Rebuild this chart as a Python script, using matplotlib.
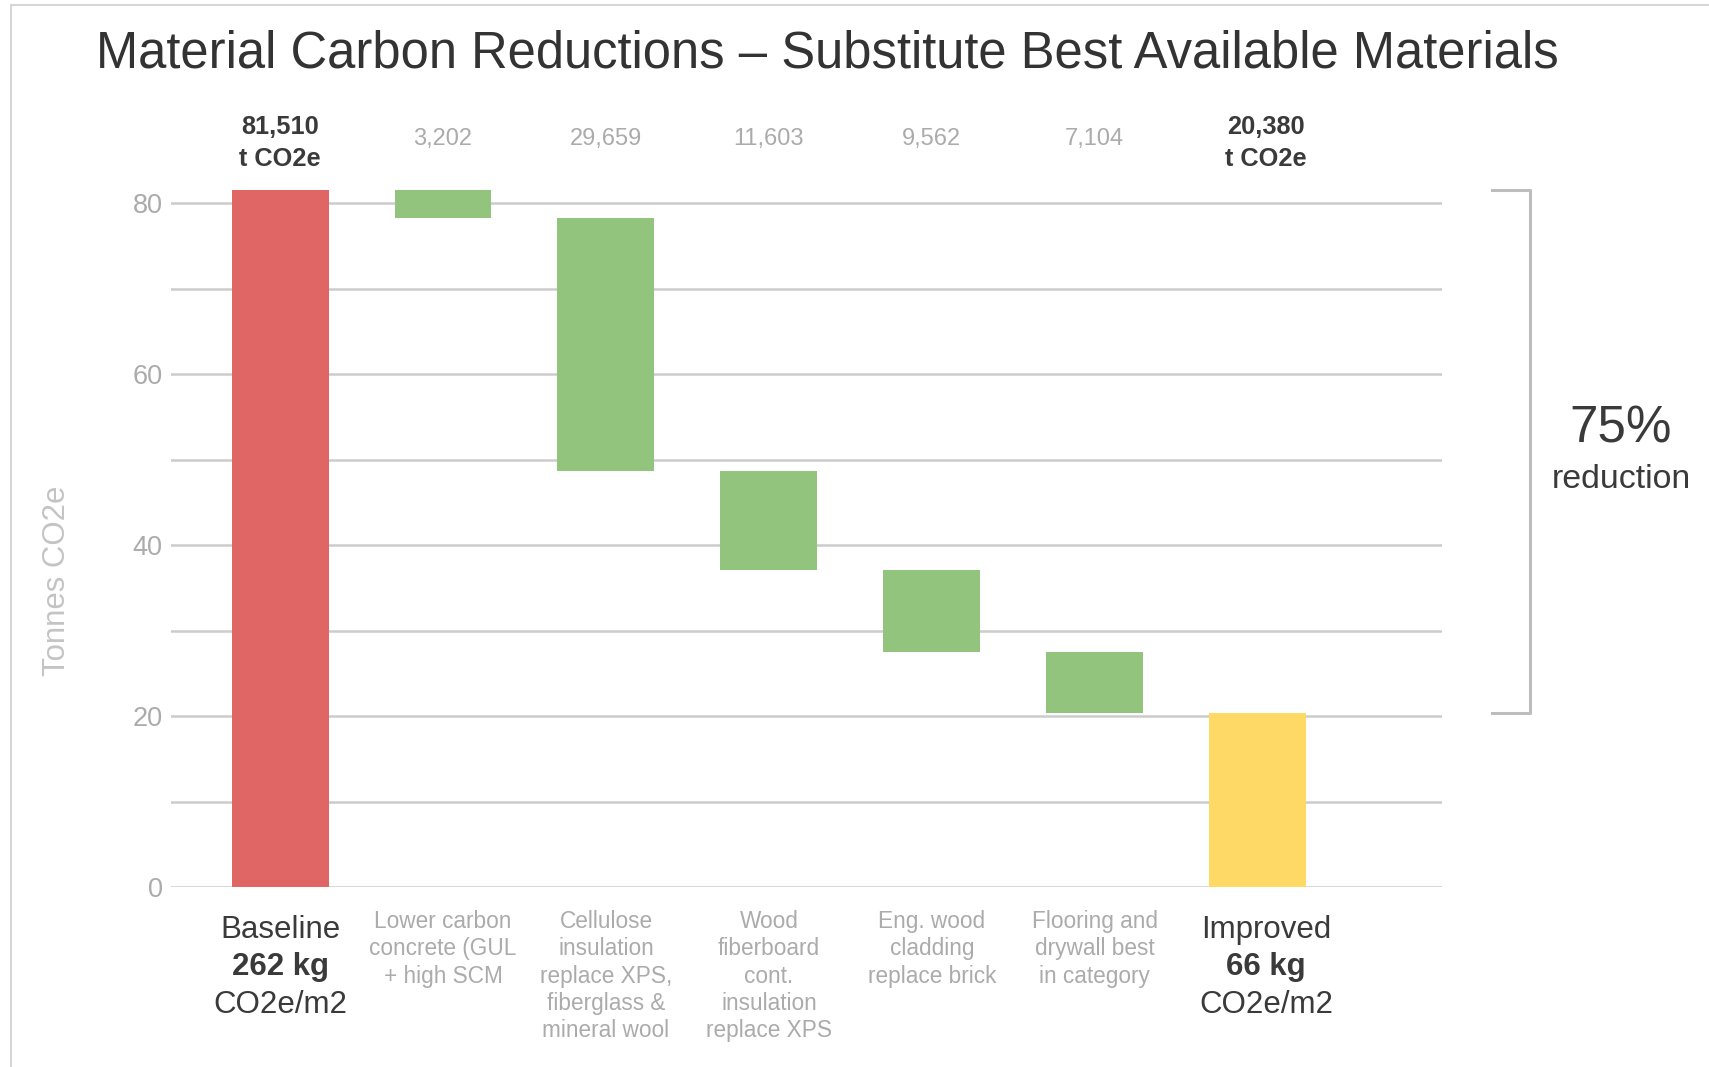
import matplotlib
matplotlib.use("Agg")
import matplotlib.pyplot as plt
from matplotlib.lines import Line2D

plt.rcParams['font.family'] = ['Liberation Sans', 'DejaVu Sans']

# Emissions in thousand tonnes CO2e
baseline = 81.510
improved = 20.380
reductions = [3.202, 29.659, 11.603, 9.562, 7.104]
reduction_labels = [
    "Lower carbon\nconcrete (GUL\n+ high SCM",
    "Cellulose\ninsulation\nreplace XPS,\nfiberglass &\nmineral wool",
    "Wood\nfiberboard\ncont.\ninsulation\nreplace XPS",
    "Eng. wood\ncladding\nreplace brick",
    "Flooring and\ndrywall best\nin category",
]
baseline_label = ["Baseline", "262 kg", "CO2e/m2"]
improved_label = ["Improved", "66 kg", "CO2e/m2"]
yticks = [0, 10, 20, 30, 40, 50, 60, 70, 80]
ytick_labels = ["0", "", "20", "", "40", "", "60", "", "80"]

RED = "#E06666"
GREEN = "#93C47D"
YELLOW = "#FFD966"
GRID = "#CCCCCC"
LIGHT = "#ABABAB"
DARK = "#3A3A3A"

fig = plt.figure(figsize=(17.09, 10.67), dpi=100)
ax = fig.add_axes([0.1, 0.1687, 0.7437, 0.665])

width = 0.595
n = len(reductions)
# baseline bar
ax.bar(0, baseline, width=width, color=RED, zorder=3)
# floating reduction bars
running = baseline
for i, r in enumerate(reductions, start=1):
    ax.bar(i, r, bottom=running - r, width=width, color=GREEN, zorder=3)
    running -= r
# improved bar
ax.bar(n + 1, improved, width=width, color=YELLOW, zorder=3)

ax.set_xlim(-0.67, 7.13)
ax.set_ylim(0, 83)
ax.set_yticks(yticks)
ax.set_yticklabels(ytick_labels)
ax.tick_params(axis='y', length=0, pad=6, labelsize=19.5, labelcolor=LIGHT)
ax.set_xticks([])
ax.yaxis.grid(True, color=GRID, lw=1.8)
ax.set_axisbelow(True)
for s in ax.spines.values():
    s.set_visible(False)

fig.text(0.0334, 0.4555, "Tonnes CO2e", rotation=90, ha='center', va='center',
         fontsize=22.4, color="#C4C4C4")

# value labels above bars
label_y = 87.0
ax.text(0, label_y, f"{baseline*1000:,.0f}\nt CO2e", ha='center', va='center',
        fontsize=18.3, fontweight='bold', color=DARK, clip_on=False, linespacing=1.4)
for i, r in enumerate(reductions, start=1):
    ax.text(i, label_y + 0.45, f"{r*1000:,.0f}", ha='center', va='center',
            fontsize=17, color=LIGHT, clip_on=False)
ax.text(n + 1.05, label_y, f"{improved*1000:,.0f}\nt CO2e", ha='center', va='center',
        fontsize=18.3, fontweight='bold', color=DARK, clip_on=False, linespacing=1.4)

# category labels under bars
for i, lab in enumerate(reduction_labels, start=1):
    ax.text(i, -2.7, lab, ha='center', va='top', fontsize=16.3, color=LIGHT,
            clip_on=False, linespacing=1.24)
for xpos, lines in [(0, baseline_label), (n + 1.05, improved_label)]:
    for k, (txt, y) in enumerate(zip(lines, [-5.05, -9.4, -13.75])):
        ax.text(xpos, y, txt, ha='center', va='center', fontsize=22.5,
                fontweight='bold' if k == 1 else 'normal', color=DARK, clip_on=False)

# bracket spanning the total reduction
bx, btick = 7.67, 7.44
ax.add_line(Line2D([btick, bx, bx, btick], [baseline, baseline, improved, improved],
                   color="#BDBDBD", lw=2.2, clip_on=False))
pct = round((1 - improved / baseline) * 100)
ax.text(8.23, 53.6, f"{pct}%", ha='center', va='center', fontsize=36.8, color=DARK, clip_on=False)
ax.text(8.23, 47.7, "reduction", ha='center', va='center', fontsize=24.4, color=DARK, clip_on=False)

fig.text(0.484, 0.949, "Material Carbon Reductions \u2013 Substitute Best Available Materials",
         ha='center', va='center', fontsize=36.5, color="#333333")

# frame around the figure
fig.add_artist(Line2D([0.0065, 0.0065], [0, 0.995], transform=fig.transFigure, color="#D6D6D6", lw=1.5))
fig.add_artist(Line2D([0.0065, 1.0], [0.995, 0.995], transform=fig.transFigure, color="#D6D6D6", lw=1.5))

fig.savefig("out.png", dpi=100, facecolor="white")
